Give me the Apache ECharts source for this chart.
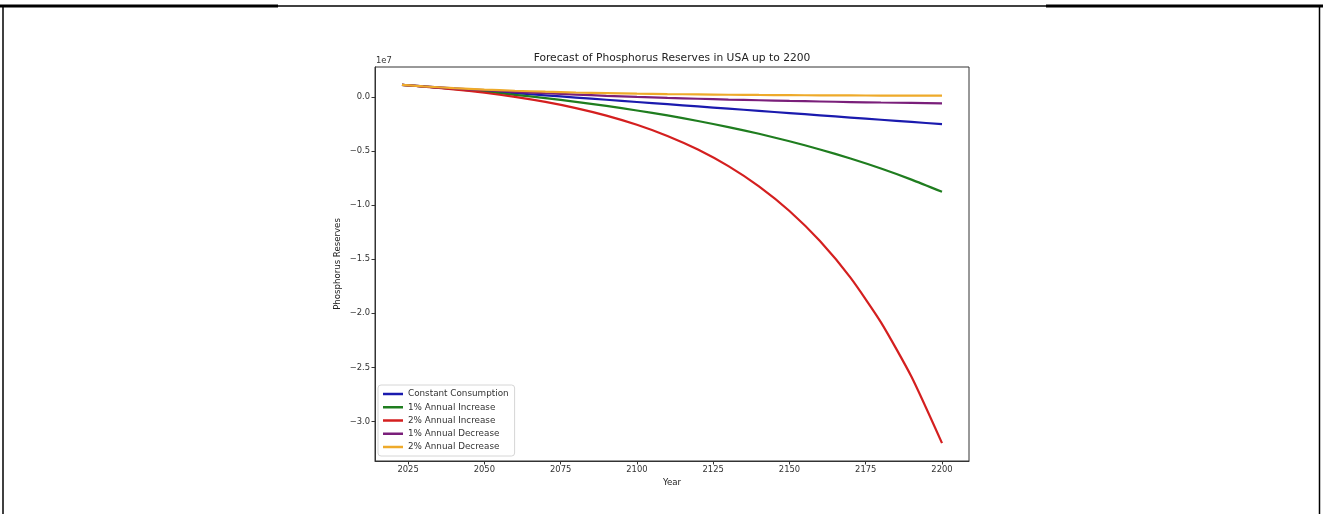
<!DOCTYPE html>
<html>
<head>
<meta charset="utf-8">
<script src="https://cdn.jsdelivr.net/npm/echarts@6/dist/echarts.min.js"></script>
<style>
  html, body { margin: 0; padding: 0; background: #fff; }
  #chart { width: 1323px; height: 514px; }
</style>
</head>
<body>
<div id="chart"></div>
<script>
// ---- Data ----
const years = [2023, 2030, 2040, 2050, 2060, 2070, 2080, 2090, 2100, 2110, 2120, 2130, 2140, 2150, 2160, 2170, 2180, 2190, 2200];
const constantConsumption = [1100000, 956500, 751500, 546500, 341500, 136500, -68500, -273500, -478500, -683500, -888500, -1093500, -1298500, -1503500, -1708500, -1913500, -2118500, -2323500, -2528500];
const increase1 = [1100000, 952200, 722200, 468200, 187500, -122400, -464800, -843000, -1260800, -1722000, -2231900, -2795000, -3416800, -4103700, -4862600, -5701100, -6626900, -7649800, -8779600];
const increase2 = [1100000, 947600, 689800, 375500, -7700, -474700, -1044100, -1738100, -2584100, -3615300, -4872400, -6404800, -8272700, -10549700, -13325400, -16709000, -20833400, -25861100, -31989700];
const decrease1 = [1100000, 960700, 778000, 612800, 463400, 328300, 206100, 95500, -4400, -94800, -176600, -250600, -317400, -377900, -432600, -482100, -526800, -567300, -603900];
const decrease2 = [1100000, 964800, 802000, 669000, 560400, 471600, 399000, 339800, 291400, 251800, 219400, 193000, 171400, 153800, 139400, 127600, 118000, 110100, 103700];

const seriesNames = ['Constant Consumption', '1% Annual Increase', '2% Annual Increase', '1% Annual Decrease', '2% Annual Decrease'];
const seriesColors = ['#1a1aae', '#1f7d1f', '#d41f1f', '#7a1f7a', '#eeaa2a'];
const xTicks = [2025, 2050, 2075, 2100, 2125, 2150, 2175, 2200];
const yTicks = [0, -5000000, -10000000, -15000000, -20000000, -25000000, -30000000];

const titleText = 'Forecast of Phosphorus Reserves in USA up to 2200';
const xLabel = 'Year';
const yLabel = 'Phosphorus Reserves';
const offsetText = '1e7';

// ---- Chart ----
const FONT = 'DejaVu Sans';
const allValues = [constantConsumption, increase1, increase2, decrease1, decrease2];
const pairs = v => years.map((y, i) => [y, v[i]]);

const xMin = 2023 - 0.05 * (2200 - 2023);
const xMax = 2200 + 0.05 * (2200 - 2023);
const flat = [].concat(...allValues);
const dMax = Math.max(...flat), dMin = Math.min(...flat);
const yMin = dMin - 0.05 * (dMax - dMin);
const yMax = dMax + 0.05 * (dMax - dMin);

const chart = echarts.init(document.getElementById('chart'), null, { renderer: 'canvas' });

const fmtY = v => {
  const s = (v / 1e7).toFixed(1);
  return s.startsWith('-') ? '\u2212' + s.slice(1) : s;
};

chart.setOption({
  animation: false,
  backgroundColor: '#ffffff',
  grid: {
    left: 375, top: 67, width: 594, height: 394,
    show: true, borderColor: '#333', borderWidth: 1, backgroundColor: 'transparent'
  },
  xAxis: {
    type: 'value', min: xMin, max: xMax,
    axisLine: { show: true, onZero: false, lineStyle: { color: '#333', width: 1 } },
    axisTick: { show: true, length: 3.5, lineStyle: { color: '#333' }, customValues: xTicks },
    axisLabel: { color: '#333', fontFamily: FONT, fontSize: 8.4, margin: 5, customValues: xTicks, formatter: v => String(v) },
    splitLine: { show: false }
  },
  yAxis: {
    type: 'value', min: yMin, max: yMax,
    axisLine: { show: true, onZero: false, lineStyle: { color: '#333', width: 1 } },
    axisTick: { show: true, length: 3.5, lineStyle: { color: '#333' }, customValues: yTicks },
    axisLabel: { color: '#333', fontFamily: FONT, fontSize: 8.4, margin: 5, customValues: yTicks, formatter: fmtY },
    splitLine: { show: false }
  },
  legend: {
    orient: 'vertical', left: 378, top: 385,
    padding: [4, 6, 4, 5],
    itemWidth: 20, itemHeight: 2.5, itemGap: 3.25,
    backgroundColor: 'rgba(255,255,255,0.85)',
    borderColor: '#d6d6d6', borderWidth: 1, borderRadius: 3,
    textStyle: { fontFamily: FONT, fontSize: 8.8, color: '#333', lineHeight: 10 },
    data: seriesNames.map(n => ({ name: n, icon: 'rect' }))
  },
  graphic: [
    { type: 'text', x: 672, y: 58, style: { text: titleText, font: '10.7px "DejaVu Sans"', fill: '#222', align: 'center', verticalAlign: 'middle' } },
    { type: 'text', x: 672, y: 483, style: { text: xLabel, font: '8.6px "DejaVu Sans"', fill: '#222', align: 'center', verticalAlign: 'middle' } },
    { type: 'text', x: 338, y: 264, rotation: Math.PI / 2, style: { text: yLabel, font: '8.6px "DejaVu Sans"', fill: '#222', align: 'center', verticalAlign: 'middle' } },
    { type: 'text', x: 376, y: 61, style: { text: offsetText, font: '8.4px "DejaVu Sans"', fill: '#333', align: 'left', verticalAlign: 'middle' } },
    // page frame
    { type: 'line', shape: { x1: 0, y1: 6, x2: 1323, y2: 6 }, style: { stroke: '#000', lineWidth: 1.5 } },
    { type: 'line', shape: { x1: 0, y1: 6, x2: 278, y2: 6 }, style: { stroke: '#000', lineWidth: 3 } },
    { type: 'line', shape: { x1: 1046, y1: 6, x2: 1323, y2: 6 }, style: { stroke: '#000', lineWidth: 3 } },
    { type: 'line', shape: { x1: 3, y1: 6, x2: 3, y2: 514 }, style: { stroke: '#000', lineWidth: 1.5 } },
    { type: 'line', shape: { x1: 1319.5, y1: 6, x2: 1319.5, y2: 514 }, style: { stroke: '#000', lineWidth: 1.5 } }
  ],
  series: allValues.map((v, i) => ({
    name: seriesNames[i],
    type: 'line',
    data: pairs(v),
    showSymbol: false,
    symbol: 'none',
    smooth: 0.2,
    color: seriesColors[i],
    lineStyle: { width: 2.2, color: seriesColors[i] },
    emphasis: { disabled: true }
  }))
});
</script>
</body>
</html>
